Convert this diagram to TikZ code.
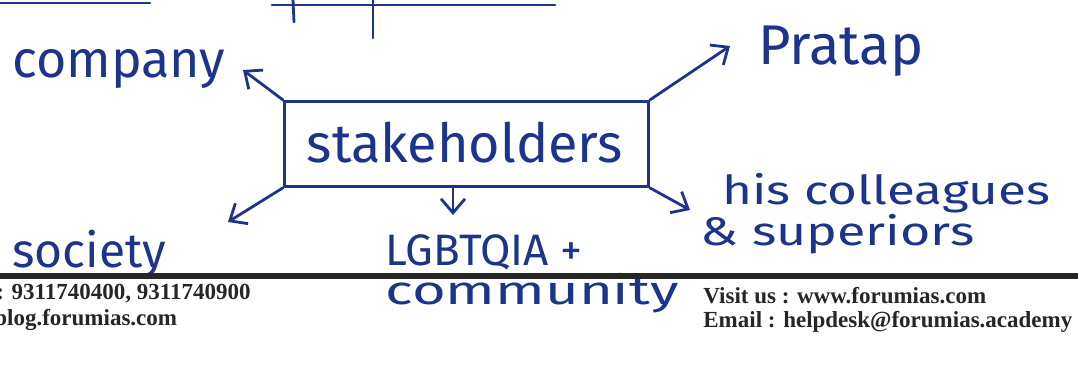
\documentclass[tikz,border=0pt]{standalone}
\usepackage{fontspec}
\usetikzlibrary{arrows.meta}
\newfontfamily\handfont{Fira Sans}
\newfontfamily\printfont{Liberation Serif}
\definecolor{ink}{RGB}{28,52,140}
\begin{document}
\begin{tikzpicture}[x=0.5pt,y=-0.5pt,
  hand/.style={text=ink,inner sep=0pt,font=\handfont},
  foot/.style={text=black!85,inner sep=0pt,font=\printfont\bfseries\fontsize{11.5}{13}\selectfont,anchor=base west},
  arr/.style={draw=ink,line width=1.4pt,line cap=round,line join=round,-{Straight Barb[length=7pt,width=12pt,line width=1.4pt]}},
  ink line/.style={draw=ink,line width=1.4pt,line cap=round}]
\useasboundingbox (0,0) rectangle (1078,383);
\clip (0,0) rectangle (1078,383);
% fragments of earlier writing at the top
\draw[ink line] (0,3) -- (150,3);
\draw[ink line] (272,5) -- (555,5);
\draw[ink line] (293,0) -- (294,22);
\draw[ink line] (373,0) -- (373,38);
% central box
\node[draw=ink,line width=1.4pt,minimum width=182pt,minimum height=42.5pt,anchor=north west,inner sep=0pt] (box) at (283,100) {};
\node[hand,font=\handfont\fontsize{27}{30}\selectfont,anchor=base] (stk) at (465,163) {stakeholders};
% stakeholder labels
\node[hand,font=\handfont\fontsize{26}{30}\selectfont,anchor=base west] (company) at (12,78) {company};
\node[hand,font=\handfont\fontsize{28}{30}\selectfont,anchor=base west] (pratap) at (758,65) {Pratap};
\node[hand,font=\handfont\fontsize{20}{24}\selectfont,anchor=base west] (coll) at (722,205) {\scalebox{1.28}[1]{his colleagues}};
\node[hand,font=\handfont\fontsize{20}{24}\selectfont,anchor=base west] (sup) at (700,246) {\scalebox{1.3}[1]{\& superiors}};
\node[hand,font=\handfont\fontsize{24}{28}\selectfont,anchor=base west] (society) at (12,268) {society};
\node[hand,font=\handfont\fontsize{22}{28}\selectfont,anchor=base west] (lgbt) at (385,266) {LGBTQIA +};
\node[hand,font=\handfont\fontsize{20}{24}\selectfont,anchor=base west] (comm) at (385,305) {\scalebox{1.45}[1]{community}};
% arrow tips
\coordinate (tcompany) at (243,70);
\coordinate (tpratap) at (730,46);
\coordinate (tcoll) at (690,210);
\coordinate (tsociety) at (228,222);
\coordinate (tlgbt) at (453,215);
\coordinate (blgbt) at (box.south -| tlgbt);
\draw[arr] (box.north west) -- (tcompany);
\draw[arr] (box.north east) -- (tpratap);
\draw[arr] (box.south east) -- (tcoll);
\draw[arr] (box.south west) -- (tsociety);
\draw[arr] (blgbt) -- (tlgbt);
% page footer
\draw[black!85,line width=3pt] (0,276) -- (1078,276);
\node[foot] (phone) at (-4,300) {: 9311740400, 9311740900};
\node[foot] (blog) at (-6,326) {blog.forumias.com};
\node[foot] (visit) at (703,304) {Visit us : www.forumias.com};
\node[foot] (email) at (703,328) {Email : helpdesk@forumias.academy};
\end{tikzpicture}
\end{document}
